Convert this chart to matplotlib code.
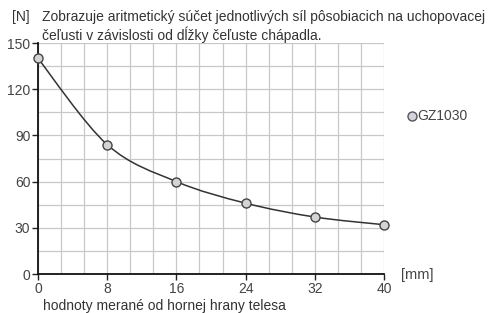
import matplotlib.pyplot as plt
import numpy as np
from matplotlib.path import Path
from matplotlib.patches import PathPatch
from matplotlib.lines import Line2D

plt.rcParams['font.family'] = ['Liberation Sans', 'DejaVu Sans']

# values
jaw_length = [0, 8, 16, 24, 32, 40]        # mm
force = [140, 84, 60, 46, 37, 32]          # N
series_name = "GZ1030"
x_ticks = [0, 8, 16, 24, 32, 40]
y_ticks = [0, 30, 60, 90, 120, 150]

txt = '#333333'
grid_c = '#c8c8c8'

fig = plt.figure(figsize=(4.88, 3.13), dpi=100)
ax = fig.add_axes([0.0779, 0.1246, 0.709, 0.7380])

# smooth curve through the points (Catmull-Rom converted to cubic bezier)
x = np.array(jaw_length, float)
y = np.array(force, float)
verts = [(x[0], y[0])]
codes = [Path.MOVETO]
for i in range(len(x) - 1):
    p0 = np.array([x[max(i - 1, 0)], y[max(i - 1, 0)]])
    p1 = np.array([x[i], y[i]])
    p2 = np.array([x[i + 1], y[i + 1]])
    p3 = np.array([x[min(i + 2, len(x) - 1)], y[min(i + 2, len(x) - 1)]])
    c1 = p1 + (p2 - p0) / 6
    c2 = p2 - (p3 - p1) / 6
    verts += [tuple(c1), tuple(c2), tuple(p2)]
    codes += [Path.CURVE4] * 3
ax.add_patch(PathPatch(Path(verts, codes), fill=False, edgecolor='#333333', lw=1.1, zorder=3))

ax.plot(jaw_length, force, ls='none', marker='o', ms=6.5, mfc='#d4d4d4', mec='#444444',
        mew=1.0, zorder=4, clip_on=False)

ax.set_xlim(0, 40)
ax.set_ylim(0, 150)
ax.set_xticks(x_ticks)
ax.set_yticks(y_ticks)
ax.set_xticks(np.linspace(0, 40, 16), minor=True)
ax.set_yticks(np.arange(0, 151, 15), minor=True)
ax.grid(which='both', color=grid_c, lw=0.9)
ax.set_axisbelow(True)
ax.tick_params(which='minor', length=0)
ax.tick_params(which='major', length=4, width=1, colors='#222222', labelcolor='#444444',
               labelsize=10, pad=1.5)
for s in ['top', 'right']:
    ax.spines[s].set_visible(False)
for s in ['left', 'bottom']:
    ax.spines[s].set_color('#111111')
    ax.spines[s].set_linewidth(1.3)

fig.text(12 / 488, 1 - 17 / 313, "[N]", color=txt, fontsize=10, va='center')
fig.text(42 / 488, 1 - 17 / 313,
         "Zobrazuje aritmetický súčet jednotlivých síl pôsobiacich na uchopovacej",
         color=txt, fontsize=10, va='center')
fig.text(42 / 488, 1 - 35 / 313, "čeľusti v závislosti od dĺžky čeľuste chápadla.",
         color=txt, fontsize=10, va='center')
fig.text(401 / 488, 1 - 275 / 313, "[mm]", color='#444444', fontsize=10.5, va='center')
fig.text(43 / 488, 1 - 306 / 313, "hodnoty merané od hornej hrany telesa",
         color=txt, fontsize=10, va='center')

fig.add_artist(Line2D([411.5 / 488], [1 - 116 / 313], ls='none', marker='o', ms=6.5,
                      mfc='#d4d4e0', mec='#555555', mew=1.0))
fig.text(417 / 488, 1 - 116 / 313, series_name, color='#444444', fontsize=10, va='center')

fig.savefig('out.png', dpi=100)
